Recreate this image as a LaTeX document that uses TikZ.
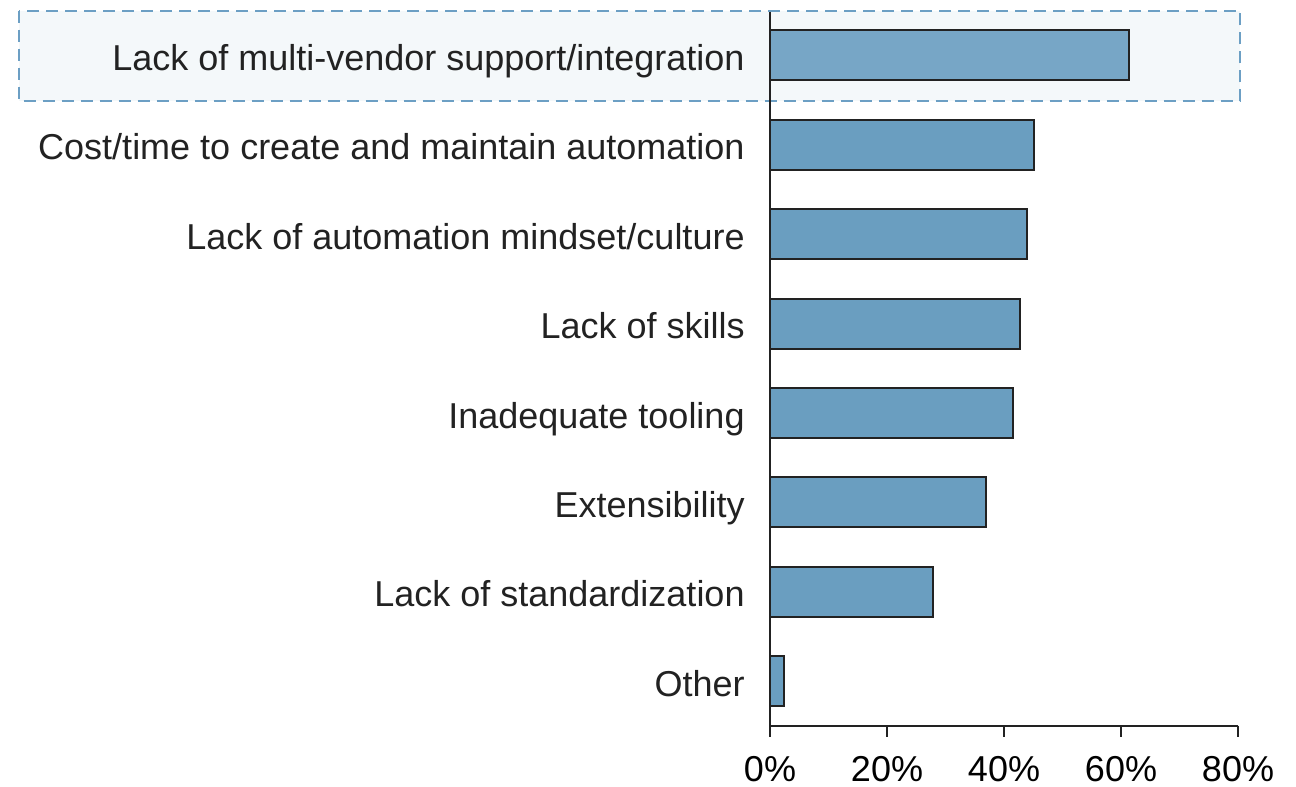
\documentclass[tikz,border=0pt]{standalone}
\usepackage{fontspec}
\setmainfont{Liberation Sans}
\usepackage{xcolor}
\usetikzlibrary{positioning}
\definecolor{barblue}{HTML}{6A9EC0}
\definecolor{hiblue}{HTML}{77A6C6}
\definecolor{boxline}{HTML}{6C9FC4}
\definecolor{boxfill}{HTML}{F4F8FA}
\definecolor{ink}{HTML}{222222}
\tikzset{x=0.5pt,y=-0.5pt,
bar/.style={draw=ink, line width=1pt, fill=barblue, minimum height=25pt,
  inner sep=0pt, outer sep=0pt, anchor=west},
pct/.style={minimum width=#1*2.925pt},
lbl/.style={text=ink, font=\fontsize{18}{21}\selectfont, inner sep=0pt, anchor=mid east},
tck/.style={text=black, font=\fontsize{18}{21}\selectfont, inner sep=0pt, anchor=base},
axis/.style={draw=ink, line width=0.9pt}
}

\begin{document}
\begin{tikzpicture}
\useasboundingbox (0,0) rectangle (1296,787);
% highlighted row
\draw[boxline, fill=boxfill, line width=1.2pt, dash pattern=on 6pt off 3.5pt]
  (19,10.7) rectangle (1240,101);
% bars
\node[bar, fill=hiblue, pct=61.3] (b1) at (770,55.3) {};
\node[bar, pct=45.1] (b2) at (770,144.7) {};
\node[bar, pct=44.0] (b3) at (770,234.1) {};
\node[bar, pct=42.8] (b4) at (770,323.5) {};
\node[bar, pct=41.6] (b5) at (770,412.9) {};
\node[bar, pct=37.0] (b6) at (770,502.3) {};
\node[bar, pct=27.8] (b7) at (770,591.7) {};
\node[bar, pct=2.4] (b8) at (770,681.1) {};
% labels
\node[lbl] (l1) at ([xshift=-12.5pt,yshift=-5pt]b1.west) {Lack of multi-vendor support/integration};
\node[lbl] (l2) at ([xshift=-12.5pt,yshift=-5pt]b2.west) {Cost/time to create and maintain automation};
\node[lbl] (l3) at ([xshift=-12.5pt,yshift=-5pt]b3.west) {Lack of automation mindset/culture};
\node[lbl] (l4) at ([xshift=-12.5pt,yshift=-5pt]b4.west) {Lack of skills};
\node[lbl] (l5) at ([xshift=-12.5pt,yshift=-5pt]b5.west) {Inadequate tooling};
\node[lbl] (l6) at ([xshift=-12.5pt,yshift=-5pt]b6.west) {Extensibility};
\node[lbl] (l7) at ([xshift=-12.5pt,yshift=-5pt]b7.west) {Lack of standardization};
\node[lbl] (l8) at ([xshift=-12.5pt,yshift=-5pt]b8.west) {Other};
% axes
\coordinate (top) at (770,11.7);
\coordinate (o) at (770,725.7);
\coordinate (xend) at (1238,725.7);
\draw[axis] (top) -- (o) -- (xend);
\foreach \p in {0,20,40,60,80}{
  \draw[axis] (770+\p*5.85,725.7) -- (770+\p*5.85,736.7);
  \node[tck] (t\p) at (770+\p*5.85,781) {\p\%};
}
\end{tikzpicture}
\end{document}
